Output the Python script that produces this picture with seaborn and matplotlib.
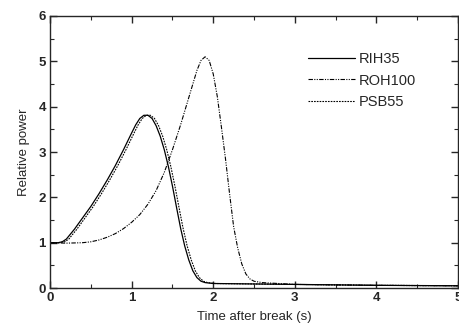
import numpy as np
import pandas as pd
import matplotlib
matplotlib.use('Agg')
import matplotlib.pyplot as plt
from matplotlib.ticker import MultipleLocator
import seaborn as sns

# Relative power after break
rih35_t = [0, 0.1, 0.15, 0.2, 0.3, 0.4, 0.5, 0.6, 0.7, 0.8, 0.9, 1.0, 1.05, 1.1, 1.15,
           1.2, 1.25, 1.3, 1.35, 1.4, 1.45, 1.5, 1.55, 1.6, 1.65, 1.7, 1.75, 1.8, 1.85,
           1.9, 2.0, 2.5, 3, 4, 5]
rih35_v = [1.0, 1.0, 1.02, 1.08, 1.3, 1.55, 1.8, 2.08, 2.38, 2.7, 3.05, 3.42, 3.6, 3.74,
           3.81, 3.81, 3.74, 3.58, 3.35, 3.05, 2.68, 2.25, 1.78, 1.32, 0.93, 0.62, 0.38,
           0.23, 0.15, 0.12, 0.1, 0.09, 0.08, 0.06, 0.05]

psb55_t = [0, 0.1, 0.18, 0.23, 0.33, 0.43, 0.53, 0.63, 0.73, 0.83, 0.93, 1.03, 1.08, 1.13,
           1.18, 1.23, 1.28, 1.33, 1.38, 1.43, 1.48, 1.53, 1.58, 1.63, 1.68, 1.73, 1.78,
           1.83, 1.88, 1.93, 2.03, 2.5, 3, 4, 5]
psb55_v = [1.0, 1.0, 1.02, 1.08, 1.3, 1.55, 1.8, 2.08, 2.38, 2.7, 3.05, 3.42, 3.6, 3.74,
           3.81, 3.81, 3.74, 3.58, 3.35, 3.05, 2.68, 2.25, 1.78, 1.32, 0.93, 0.62, 0.38,
           0.23, 0.15, 0.12, 0.1, 0.09, 0.08, 0.06, 0.05]

roh100_t = [0, 0.2, 0.4, 0.5, 0.6, 0.7, 0.8, 0.9, 1.0, 1.1, 1.2, 1.3, 1.4, 1.5, 1.6,
            1.7, 1.75, 1.8, 1.85, 1.9, 1.95, 2.0, 2.05, 2.1, 2.15, 2.2, 2.25, 2.3, 2.35,
            2.4, 2.45, 2.5, 2.6, 2.8, 3, 4, 5]
roh100_v = [1.0, 0.99, 1.0, 1.02, 1.06, 1.12, 1.2, 1.31, 1.45, 1.62, 1.85, 2.15, 2.55,
            3.05, 3.6, 4.2, 4.5, 4.8, 5.02, 5.1, 5.02, 4.72, 4.22, 3.55, 2.85, 2.08, 1.35,
            0.88, 0.53, 0.31, 0.2, 0.15, 0.12, 0.1, 0.08, 0.06, 0.05]

sns.set_style('ticks')
plt.rcParams['font.family'] = ['Liberation Sans', 'DejaVu Sans']
plt.rcParams.update({
    'xtick.direction': 'in',
    'ytick.direction': 'in',
    'xtick.top': True,
    'ytick.right': True,
    'axes.linewidth': 1.0,
})

fig = plt.figure(figsize=(4.59, 3.33), dpi=100)
ax = fig.add_axes([0.109, 0.135, 0.889, 0.817])

sns.lineplot(x=rih35_t, y=rih35_v, ax=ax, color='black', lw=0.9, label='RIH35')
sns.lineplot(x=roh100_t, y=roh100_v, ax=ax, color='black', lw=0.8, label='ROH100',
             linestyle=(0, (4, 1.2, 1, 1.2, 1, 1.2)))
sns.lineplot(x=psb55_t, y=psb55_v, ax=ax, color='black', lw=0.8, label='PSB55',
             linestyle=(0, (1.5, 1)))

ax.set_xlim(0, 5)
ax.set_ylim(0, 6)
ax.xaxis.set_major_locator(MultipleLocator(1))
ax.xaxis.set_minor_locator(MultipleLocator(0.5))
ax.yaxis.set_major_locator(MultipleLocator(1))
ax.yaxis.set_minor_locator(MultipleLocator(0.5))
ax.tick_params(which='major', length=5, width=1, labelsize=9.5, pad=3)
ax.tick_params(which='minor', length=3, width=0.8)
for lab in ax.get_xticklabels() + ax.get_yticklabels():
    lab.set_fontweight('bold')

ax.set_xlabel('Time after break (s)', fontsize=9.5, labelpad=5)
ax.set_ylabel('Relative power', fontsize=9.5, labelpad=6)

ax.legend(loc='upper left', bbox_to_anchor=(0.6, 0.915), frameon=False, fontsize=10.5,
          handlelength=3.2, handletextpad=0.3, labelspacing=0.5)

fig.savefig('out.png', dpi=100)
